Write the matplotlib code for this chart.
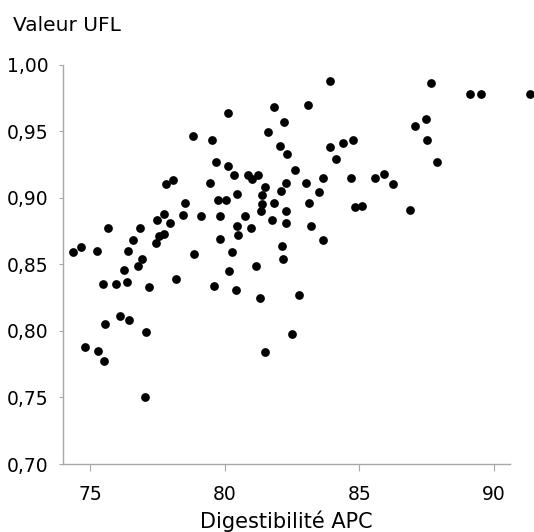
import matplotlib
matplotlib.use("Agg")
import matplotlib.pyplot as plt

# Digestibilite APC (x) vs Valeur UFL (y)
digestibilite = [
    80.14, 78.83, 79.55, 79.67, 80.12, 80.34, 77.81, 78.09, 79.46, 79.76,
    80.04, 80.46, 78.54, 77.77, 78.44, 79.13, 79.82, 77.50, 77.99, 75.69,
    76.85, 80.46, 80.50, 77.56, 77.75, 76.61, 77.44, 79.84, 74.36, 74.67,
    75.26, 76.41, 78.88, 80.29, 76.92, 76.79, 76.25, 76.36, 75.49, 75.98,
    77.21, 78.19, 79.61, 80.17, 80.43, 75.57, 76.12, 76.44, 77.10, 74.82,
    75.30, 75.51, 77.03, 83.90, 83.10, 81.83, 82.19, 81.60, 82.06, 82.31,
    83.93, 84.41, 84.77, 84.13, 82.61, 80.88, 81.01, 81.23, 81.50, 82.29,
    83.03, 83.66, 84.70, 85.59, 82.08, 83.51, 81.40, 81.82, 81.39, 81.35,
    83.12, 84.83, 85.09, 80.76, 82.27, 81.76, 82.28, 83.20, 80.97, 83.66,
    82.12, 82.16, 81.16, 81.33, 82.75, 82.50, 81.50, 87.66, 89.12, 89.51,
    91.33, 87.50, 87.07, 87.51, 87.88, 85.94, 86.25, 86.90,
]
valeur_ufl = [
    0.964, 0.946, 0.943, 0.927, 0.924, 0.917, 0.910, 0.913, 0.911, 0.898,
    0.898, 0.903, 0.896, 0.888, 0.887, 0.886, 0.886, 0.883, 0.881, 0.877,
    0.877, 0.879, 0.872, 0.871, 0.873, 0.868, 0.866, 0.869, 0.859, 0.863,
    0.860, 0.860, 0.858, 0.859, 0.854, 0.849, 0.846, 0.837, 0.835, 0.835,
    0.833, 0.839, 0.834, 0.845, 0.831, 0.805, 0.811, 0.808, 0.799, 0.788,
    0.785, 0.777, 0.750, 0.988, 0.970, 0.968, 0.957, 0.949, 0.939, 0.933,
    0.938, 0.941, 0.943, 0.929, 0.921, 0.917, 0.914, 0.917, 0.908, 0.911,
    0.911, 0.915, 0.915, 0.915, 0.905, 0.904, 0.902, 0.896, 0.895, 0.890,
    0.896, 0.893, 0.894, 0.886, 0.890, 0.883, 0.881, 0.879, 0.877, 0.868,
    0.864, 0.854, 0.849, 0.825, 0.827, 0.798, 0.784, 0.986, 0.978, 0.978,
    0.978, 0.959, 0.954, 0.943, 0.927, 0.918, 0.910, 0.891,
]
x_ticks = [75, 80, 85, 90]
y_ticks = [0.70, 0.75, 0.80, 0.85, 0.90, 0.95, 1.00]

plt.rcParams["font.family"] = ["DejaVu Sans"]

fig = plt.figure(figsize=(5.34, 5.32), dpi=100)
ax = fig.add_axes([0.1174, 0.1278, 0.8376, 0.7508])

ax.plot(digestibilite, valeur_ufl, "o", color="black", ms=6.3,
        markeredgewidth=0, clip_on=False)

ax.set_xlim(73.99, 90.6)
ax.set_ylim(0.70, 1.00)
ax.set_xticks(x_ticks)
ax.set_xticklabels([str(t) for t in x_ticks])
ax.set_yticks(y_ticks)
ax.set_yticklabels([f"{t:.2f}".replace(".", ",") for t in y_ticks])

for side in ["top", "right"]:
    ax.spines[side].set_visible(False)
for side in ["left", "bottom"]:
    ax.spines[side].set_color("#a8a8a8")
    ax.spines[side].set_linewidth(1.0)

ax.tick_params(axis="x", direction="out", length=5, width=0.8,
               color="#a8a8a8", pad=10, labelsize=13.5)
ax.tick_params(axis="y", direction="out", length=3, width=0.8,
               color="#a8a8a8", pad=7, labelsize=13.5)

fig.text(0.024, 0.953, "Valeur UFL", fontsize=14.5, ha="left", va="center")
fig.text(0.536, 0.008, "Digestibilité APC", fontsize=15,
         ha="center", va="baseline")

fig.savefig("out.png", dpi=100)
